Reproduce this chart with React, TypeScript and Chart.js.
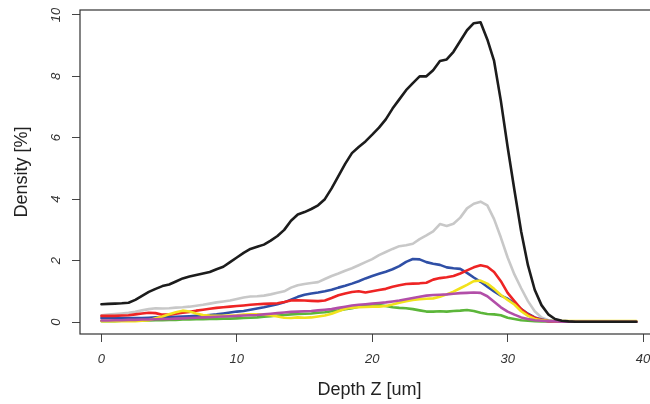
import React, { useEffect, useRef } from "react";
import { Chart, registerables } from "chart.js";

Chart.register(...registerables);

const depth: number[] = Array.from({ length: 80 }, (_, i) => i * 0.5);

const black: number[] = [
  0.58, 0.59, 0.6, 0.61, 0.63, 0.72, 0.85, 0.98, 1.08, 1.17,
  1.22, 1.32, 1.42, 1.48, 1.53, 1.58, 1.63, 1.72, 1.8, 1.95,
  2.1, 2.25, 2.38, 2.45, 2.52, 2.65, 2.8, 3.0, 3.3, 3.5,
  3.58, 3.68, 3.8, 4.0, 4.35, 4.75, 5.15, 5.5, 5.7, 5.88,
  6.1, 6.33, 6.6, 6.95, 7.25, 7.55, 7.78, 8.0, 8.0, 8.2,
  8.5, 8.55, 8.8, 9.15, 9.5, 9.73, 9.76, 9.2, 8.5, 7.2,
  5.7, 4.3, 2.95, 1.85, 1.05, 0.55, 0.25, 0.1, 0.04, 0.02,
  0.01, 0.01, 0.01, 0.01, 0.01, 0.01, 0.01, 0.01, 0.01, 0.01,
];

const gray: number[] = [
  0.22, 0.24, 0.26, 0.28, 0.3, 0.33, 0.38, 0.42, 0.45, 0.44,
  0.45, 0.47, 0.48, 0.5, 0.53, 0.56, 0.6, 0.64, 0.67, 0.7,
  0.75, 0.8, 0.83, 0.84, 0.86, 0.9, 0.95, 1.0, 1.12, 1.2,
  1.24, 1.27, 1.3, 1.4, 1.5, 1.58, 1.67, 1.75, 1.85, 1.95,
  2.05, 2.18, 2.28, 2.38, 2.47, 2.5, 2.55, 2.7, 2.82, 2.95,
  3.19, 3.13, 3.2, 3.4, 3.7, 3.85, 3.92, 3.8, 3.35, 2.75,
  2.1, 1.55, 1.1, 0.68, 0.35, 0.15, 0.06, 0.03, 0.01, 0.01,
  0.01, 0.01, 0.01, 0.01, 0.01, 0.01, 0.01, 0.01, 0.01, 0.01,
];

const blue: number[] = [
  0.13, 0.13, 0.13, 0.13, 0.13, 0.13, 0.13, 0.14, 0.15, 0.16,
  0.17, 0.17, 0.18, 0.19, 0.2, 0.21, 0.23, 0.25, 0.28, 0.31,
  0.34, 0.36, 0.4, 0.44, 0.48, 0.53, 0.58, 0.64, 0.73, 0.82,
  0.89, 0.93, 0.96, 1.0, 1.05, 1.12, 1.18, 1.25, 1.33, 1.42,
  1.5, 1.57, 1.64, 1.72, 1.82, 1.96, 2.05, 2.04, 1.95, 1.9,
  1.86, 1.78, 1.75, 1.73, 1.6, 1.45, 1.31, 1.15, 1.0, 0.86,
  0.76, 0.6, 0.42, 0.27, 0.15, 0.08, 0.04, 0.02, 0.01, 0.01,
  0.01, 0.01, 0.01, 0.01, 0.01, 0.01, 0.01, 0.01, 0.01, 0.01,
];

const red: number[] = [
  0.2, 0.2, 0.2, 0.21, 0.22, 0.25, 0.28, 0.3, 0.29, 0.24,
  0.24, 0.27, 0.3, 0.33, 0.37, 0.4, 0.43, 0.46, 0.48, 0.5,
  0.52, 0.54, 0.56, 0.58, 0.59, 0.6, 0.61, 0.65, 0.7, 0.71,
  0.7, 0.69, 0.68, 0.7, 0.78, 0.87, 0.93, 0.98, 1.0, 0.96,
  1.0, 1.04, 1.08, 1.15, 1.2, 1.24, 1.25, 1.26, 1.28, 1.38,
  1.43, 1.46, 1.5, 1.58, 1.68, 1.78, 1.85, 1.8, 1.63, 1.33,
  0.95, 0.68, 0.42, 0.25, 0.14, 0.07, 0.03, 0.01, 0.01, 0.01,
  0.01, 0.01, 0.01, 0.01, 0.01, 0.01, 0.01, 0.01, 0.01, 0.01,
];

const yellow: number[] = [
  0.03, 0.03, 0.03, 0.03, 0.03, 0.03, 0.04, 0.06, 0.12, 0.18,
  0.25, 0.32, 0.37, 0.34, 0.28, 0.23, 0.21, 0.2, 0.2, 0.21,
  0.22, 0.24, 0.25, 0.25, 0.24, 0.22, 0.18, 0.14, 0.13, 0.15,
  0.14, 0.15, 0.18, 0.21, 0.27, 0.35, 0.43, 0.47, 0.48, 0.49,
  0.5, 0.5, 0.52, 0.57, 0.63, 0.68, 0.72, 0.74, 0.76, 0.77,
  0.82, 0.9, 0.99, 1.1, 1.21, 1.33, 1.35, 1.25, 1.08, 0.88,
  0.72, 0.57, 0.35, 0.2, 0.1, 0.06, 0.04, 0.03, 0.03, 0.03,
  0.03, 0.03, 0.03, 0.03, 0.03, 0.03, 0.03, 0.03, 0.03, 0.03,
];

const purple: number[] = [
  0.05, 0.05, 0.06, 0.06, 0.07, 0.07, 0.08, 0.08, 0.09, 0.1,
  0.1, 0.11, 0.12, 0.13, 0.14, 0.15, 0.16, 0.17, 0.18, 0.19,
  0.2, 0.21, 0.22, 0.23, 0.25, 0.27, 0.29, 0.31, 0.33, 0.34,
  0.35, 0.36, 0.38, 0.4, 0.42, 0.46, 0.5, 0.54, 0.56, 0.58,
  0.6, 0.62, 0.64, 0.67, 0.7, 0.74, 0.78, 0.82, 0.86, 0.88,
  0.89, 0.9, 0.92, 0.94, 0.95, 0.96, 0.95, 0.84, 0.66, 0.48,
  0.34, 0.24, 0.15, 0.1, 0.06, 0.04, 0.03, 0.02, 0.01, 0.01,
  0.01, 0.01, 0.01, 0.01, 0.01, 0.01, 0.01, 0.01, 0.01, 0.01,
];

const green: number[] = [
  0.03, 0.03, 0.03, 0.04, 0.04, 0.04, 0.05, 0.05, 0.06, 0.06,
  0.07, 0.07, 0.08, 0.08, 0.09, 0.09, 0.1, 0.1, 0.11, 0.11,
  0.12, 0.13, 0.14, 0.15, 0.17, 0.19, 0.21, 0.23, 0.25, 0.26,
  0.27, 0.28, 0.3, 0.32, 0.35, 0.38, 0.42, 0.45, 0.5, 0.54,
  0.56, 0.55, 0.52, 0.48, 0.46, 0.45, 0.42, 0.38, 0.34, 0.34,
  0.35, 0.34, 0.36, 0.37, 0.39, 0.36, 0.3, 0.26, 0.25, 0.22,
  0.14, 0.1, 0.06, 0.04, 0.03, 0.02, 0.02, 0.01, 0.01, 0.01,
  0.01, 0.01, 0.01, 0.01, 0.01, 0.01, 0.01, 0.01, 0.01, 0.01,
];

const xTicks: number[] = [0, 10, 20, 30, 40];
const yTicks: number[] = [0, 2, 4, 6, 8, 10];
const xTitle = "Depth Z [um]";
const yTitle = "Density [%]";

const FONT = "'Liberation Sans', Arial, Helvetica, sans-serif";

const series = [
  { data: black, color: "#1c1c1c" },
  { data: purple, color: "#b24ea8" },
  { data: yellow, color: "#f2e21c" },
  { data: red, color: "#ee2424" },
  { data: blue, color: "#2f4fa6" },
  { data: green, color: "#5cb63a" },
  { data: gray, color: "#c8c8c8" },
];

const decorPlugin = {
  id: "rdecor",
  afterDraw(chart: any) {
    const { ctx, chartArea, scales } = chart;
    const xs = scales.x;
    const ys = scales.y;
    ctx.save();
    // box
    ctx.strokeStyle = "#333";
    ctx.lineWidth = 1.2;
    ctx.strokeRect(chartArea.left, chartArea.top, chartArea.right - chartArea.left, chartArea.bottom - chartArea.top);
    // tick labels
    ctx.fillStyle = "#333";
    ctx.font = `italic 13px ${FONT}`;
    ctx.textAlign = "center";
    ctx.textBaseline = "middle";
    xTicks.forEach((v) => {
      ctx.fillText(String(v), xs.getPixelForValue(v), 359);
    });
    yTicks.forEach((v) => {
      ctx.save();
      ctx.translate(56, ys.getPixelForValue(v));
      ctx.rotate(-Math.PI / 2);
      ctx.fillText(String(v), 0, 0);
      ctx.restore();
    });
    // titles
    ctx.fillStyle = "#222";
    ctx.font = `18px ${FONT}`;
    ctx.fillText(xTitle, (chartArea.left + chartArea.right) / 2, 390);
    ctx.save();
    ctx.translate(22, (chartArea.top + chartArea.bottom) / 2);
    ctx.rotate(-Math.PI / 2);
    ctx.fillText(yTitle, 0, 0);
    ctx.restore();
    ctx.restore();
  },
};

export default function App() {
  const ref = useRef<HTMLCanvasElement | null>(null);
  useEffect(() => {
    if (!ref.current) return;
    const chart = new Chart(ref.current, {
      type: "line",
      data: {
        labels: depth,
        datasets: series.map((s) => ({
          data: depth.map((x, i) => ({ x, y: s.data[i] })),
          borderColor: s.color,
          borderWidth: 2.6,
          pointRadius: 0,
          fill: false,
          tension: 0,
          borderJoinStyle: "round" as const,
          borderCapStyle: "round" as const,
        })),
      },
      options: {
        responsive: false,
        animation: false,
        devicePixelRatio: 1,
        layout: { padding: { top: 10, right: 5, left: 0, bottom: 0 } },
        plugins: { legend: { display: false }, tooltip: { enabled: false } },
        scales: {
          x: {
            type: "linear",
            min: -1.584,
            max: 41.18,
            afterBuildTicks: (s: any) => {
              s.ticks = xTicks.map((v) => ({ value: v }));
            },
            afterFit: (s: any) => {
              s.height = 70;
            },
            ticks: { display: false },
            border: { display: false },
            grid: { drawOnChartArea: false, drawTicks: true, tickLength: 8, tickColor: "#444", lineWidth: 1 },
          },
          y: {
            type: "linear",
            min: -0.39,
            max: 10.16,
            afterBuildTicks: (s: any) => {
              s.ticks = yTicks.map((v) => ({ value: v }));
            },
            afterFit: (s: any) => {
              s.width = 80;
            },
            ticks: { display: false },
            border: { display: false },
            grid: { drawOnChartArea: false, drawTicks: true, tickLength: 8, tickColor: "#444", lineWidth: 1 },
          },
        },
      },
      plugins: [decorPlugin],
    });
    return () => chart.destroy();
  }, []);
  return (
    <div style={{ position: "fixed", left: 0, top: 0, width: 664, height: 404, overflow: "hidden", background: "#fff" }}>
      <canvas ref={ref} width={664} height={404} style={{ display: "block" }} />
    </div>
  );
}
